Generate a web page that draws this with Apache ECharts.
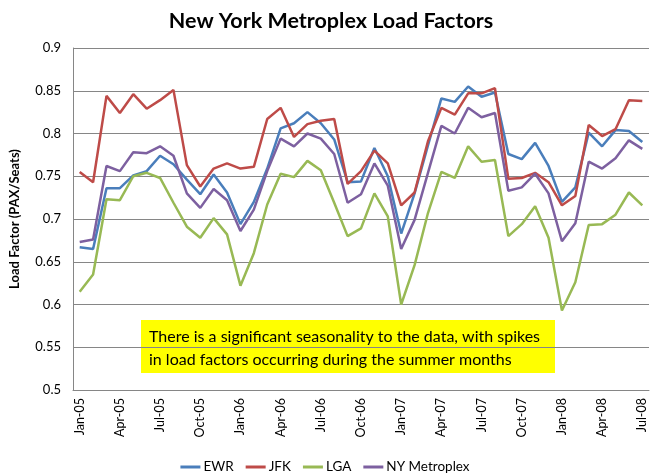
<!DOCTYPE html>
<html>
<head>
<meta charset="utf-8">
<script src="https://cdn.jsdelivr.net/npm/echarts@6/dist/echarts.min.js"></script>
<style>
html,body{margin:0;padding:0;background:#fff;}
#chart{width:650px;height:476px;}
</style>
</head>
<body>
<div id="chart"></div>
<script>
var months = ["Jan-05","Feb-05","Mar-05","Apr-05","May-05","Jun-05","Jul-05","Aug-05","Sep-05","Oct-05","Nov-05","Dec-05",
"Jan-06","Feb-06","Mar-06","Apr-06","May-06","Jun-06","Jul-06","Aug-06","Sep-06","Oct-06","Nov-06","Dec-06",
"Jan-07","Feb-07","Mar-07","Apr-07","May-07","Jun-07","Jul-07","Aug-07","Sep-07","Oct-07","Nov-07","Dec-07",
"Jan-08","Feb-08","Mar-08","Apr-08","May-08","Jun-08","Jul-08"];

var ewr = [0.667,0.665,0.736,0.736,0.751,0.756,0.774,0.764,0.746,0.729,0.752,0.731,
0.694,0.720,0.759,0.806,0.812,0.825,0.812,0.793,0.743,0.744,0.783,0.750,
0.683,0.730,0.786,0.841,0.837,0.855,0.843,0.848,0.776,0.770,0.789,0.762,
0.720,0.737,0.801,0.785,0.804,0.803,0.790];

var jfk = [0.755,0.743,0.844,0.824,0.846,0.829,0.839,0.851,0.763,0.738,0.759,0.765,
0.759,0.761,0.817,0.830,0.796,0.811,0.815,0.817,0.741,0.756,0.780,0.765,
0.716,0.731,0.791,0.830,0.822,0.847,0.847,0.853,0.747,0.748,0.754,0.743,
0.716,0.727,0.810,0.797,0.805,0.839,0.838];

var lga = [0.615,0.635,0.723,0.722,0.750,0.754,0.748,0.719,0.691,0.678,0.701,0.682,
0.622,0.660,0.717,0.753,0.749,0.768,0.757,0.719,0.680,0.689,0.730,0.703,
0.600,0.646,0.707,0.755,0.748,0.785,0.767,0.769,0.680,0.694,0.715,0.678,
0.593,0.626,0.693,0.694,0.705,0.731,0.716];

var nym = [0.673,0.676,0.762,0.756,0.778,0.777,0.785,0.774,0.730,0.713,0.735,0.722,
0.686,0.711,0.756,0.794,0.785,0.800,0.794,0.776,0.719,0.729,0.765,0.739,
0.665,0.699,0.754,0.809,0.800,0.830,0.819,0.824,0.733,0.737,0.753,0.730,
0.674,0.695,0.767,0.759,0.771,0.792,0.782];

var seriesNames = ["EWR","JFK","LGA","NY Metroplex"];
var seriesColors = ["#4a7ebb","#be4b48","#98b954","#7d60a0"];
var seriesData = [ewr, jfk, lga, nym];

var titleText = "New York Metroplex Load Factors";
var yAxisTitle = "Load Factor (PAX/Seats)";
var noteLines = ["There is a significant seasonality to the data, with spikes", "in load factors occurring during the summer months"];

var FONT = "Lato, 'Liberation Sans', sans-serif";

var chart = echarts.init(document.getElementById('chart'), null, {renderer:'canvas'});

var series = seriesNames.map(function(n, i){
  return {
    name: n,
    type: 'line',
    data: seriesData[i],
    showSymbol: false,
    symbol: 'none',
    lineStyle: {width: 2.5, color: seriesColors[i]},
    itemStyle: {color: seriesColors[i]},
    animation: false
  };
});

chart.setOption({
  animation: false,
  backgroundColor: '#ffffff',
  title: {
    text: titleText,
    left: 326,
    textAlign: 'center',
    top: 5,
    textStyle: {fontFamily: FONT, fontSize: 21.5, fontWeight: 'bold', color: '#000'}
  },
  legend: {
    data: seriesNames,
    left: 'center',
    top: 455,
    itemWidth: 20,
    itemHeight: 3,
    itemGap: 12,
    icon: 'rect',
    textStyle: {fontFamily: FONT, fontSize: 13.5, color: '#000', padding: [0,0,0,-2]}
  },
  grid: {left: 68, right: 1, top: 48, bottom: 86, containLabel: false},
  xAxis: {
    type: 'category',
    data: months,
    boundaryGap: true,
    axisLine: {lineStyle: {color: '#868686', width: 1}},
    axisTick: {show: false},
    axisLabel: {
      interval: 2,
      rotate: 90,
      fontFamily: FONT,
      fontSize: 12.5,
      color: '#000',
      margin: 8
    },
    splitLine: {show: false}
  },
  yAxis: {
    type: 'value',
    min: 0.5,
    max: 0.9,
    interval: 0.05,
    name: yAxisTitle,
    nameLocation: 'middle',
    nameGap: 52,
    nameTextStyle: {fontFamily: FONT, fontSize: 13, fontWeight: 'bold', color: '#000'},
    axisLine: {show: true, lineStyle: {color: '#868686', width: 1}},
    axisTick: {show: false},
    axisLabel: {
      fontFamily: FONT, fontSize: 13, color: '#000', margin: 12,
      formatter: function(v){ return String(parseFloat(v.toFixed(2))); }
    },
    splitLine: {lineStyle: {color: '#868686', width: 1}}
  },
  graphic: [
    {
      type: 'group',
      left: 141, top: 320,
      children: [
        {type: 'rect', shape: {x: 0, y: 0, width: 414, height: 53}, style: {fill: '#ffff00'}},
        {type: 'text', left: 8, top: 5, style: {text: noteLines.join('\n'), fontFamily: FONT, fontSize: 16, lineHeight: 23, fill: '#000'}}
      ]
    }
  ],
  series: series
});
</script>
</body>
</html>
